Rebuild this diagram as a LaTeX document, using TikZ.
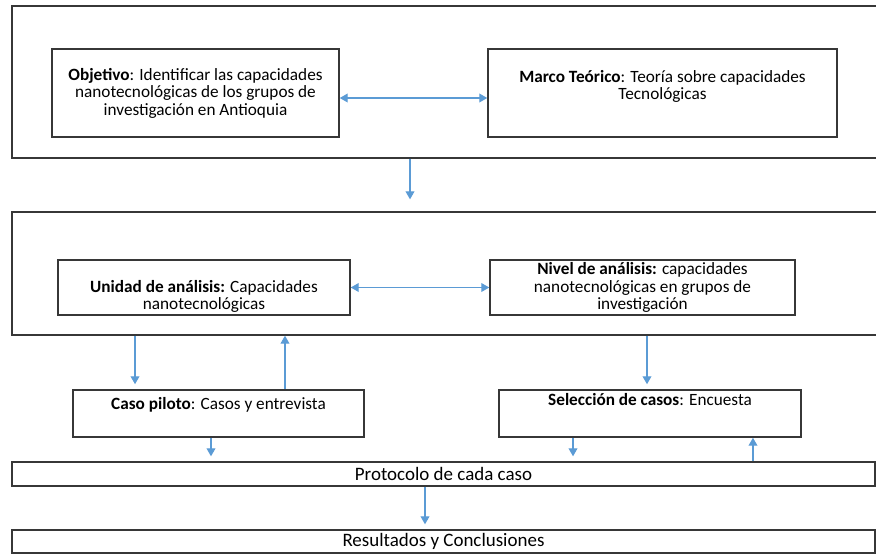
\documentclass[tikz,border=0pt]{standalone}
\usepackage{fontspec}
\setmainfont{Carlito}
\usetikzlibrary{arrows.meta,positioning,calc}
\definecolor{flowblue}{RGB}{91,155,213}
\definecolor{boxgray}{RGB}{55,55,55}

\begin{document}
\begin{tikzpicture}[x=0.02cm, y=-0.02cm,
	outerbox/.style={draw=boxgray, line width=0.8pt, minimum width=17.6cm, inner sep=0pt},
	box/.style={draw=boxgray, line width=0.9pt, align=center, inner sep=1pt, font=\fontsize{9.8}{10}\selectfont},
	band/.style={draw=boxgray, line width=0.8pt, minimum width=17.26cm, inner sep=0pt, font=\fontsize{10.8}{12}\selectfont},
	link/.style={flowblue, line width=0.6pt, -{Triangle[length=4.5pt,width=5pt]}, shorten >=0.1cm},
	uplink/.style={flowblue, line width=0.6pt, -{Triangle[length=4.5pt,width=5pt]}},
	twoway/.style={flowblue, line width=0.6pt, {Triangle[length=4.5pt,width=5pt]}-{Triangle[length=4.5pt,width=5pt]}}]
				% Fix the page to the reference size
				\clip (0,0) rectangle (876,554);
				
				% Two outer frames (cut off at the right)
				\node[outerbox, minimum height=3.04cm] (top) at (452,82) {};
				\node[outerbox, minimum height=2.46cm] (mid) at (452,273.5) {};
				
				% First frame: objetivo and marco
				\node[box, minimum width=5.74cm, minimum height=1.76cm] (obj) at (195.5,93)
					{\textbf{Objetivo}: Identificar las capacidades\\ nanotecnológicas de los grupos de\\ investigación en Antioquia};
				\node[box, minimum width=6.98cm, minimum height=1.76cm] (marco) at (662.5,93)
					{\textbf{Marco Teórico}: Teoría sobre capacidades\\ Tecnológicas\\[-4pt] \strut};
				
				% Second frame: unidad and nivel
				\node[box, inner sep=0pt, minimum width=5.84cm, minimum height=1.1cm] (unidad) at (204,287.5)
					{\strut\\[0pt] \textbf{Unidad de análisis:} Capacidades\\ nanotecnológicas};
				\node[box, minimum width=6.1cm, minimum height=1.1cm] (nivel) at (642.5,287.5)
					{\textbf{Nivel de análisis:} capacidades\\ nanotecnológicas en grupos de\\ investigación};
				
				% Caso piloto and seleccion
				\node[box, minimum width=5.82cm, minimum height=0.94cm] (caso) at (218.5,413.5)
					{\textbf{Caso piloto}: Casos y entrevista\\[-2pt] \strut};
				\node[box, minimum width=6.04cm, minimum height=0.94cm] (selec) at (650,413.5)
					{\textbf{Selección de casos}: Encuesta\\[3pt] \strut};
				
				% Bottom bands
				\node[band, minimum height=0.48cm] (proto) at (443.5,474) {Protocolo de cada caso};
				\node[band, minimum height=0.46cm] (result) at (443.5,541.5) {Resultados y Conclusiones};
				
				% Connections
				\draw[twoway] ([yshift=-0.1cm]obj.east) -- ([yshift=-0.1cm]marco.west);
				\draw[link, shorten >=0.24cm] ([xshift=-0.84cm]top.south) -- ([xshift=-0.84cm]mid.north);
				\draw[twoway] (unidad.east) -- (nivel.west);
				\draw[link] ([xshift=-1.67cm]caso.north |- mid.south) -- ([xshift=-1.67cm]caso.north);
				\draw[uplink] ([xshift=1.33cm]caso.north) -- ([xshift=1.33cm]caso.north |- mid.south);
				\draw[link] ([xshift=-0.06cm]selec.north |- mid.south) -- ([xshift=-0.06cm]selec.north);
				\draw[link] ([xshift=-0.15cm]caso.south) -- ([xshift=-0.15cm]caso.south |- proto.north);
				\draw[link] ([xshift=-1.54cm]selec.south) -- ([xshift=-1.54cm]selec.south |- proto.north);
				\draw[uplink] ([xshift=2.06cm]selec.south |- proto.north) -- ([xshift=2.06cm]selec.south);
				\draw[link] ([xshift=-0.37cm]proto.south) -- ([xshift=-0.37cm]result.north);
\end{tikzpicture}
\end{document}
